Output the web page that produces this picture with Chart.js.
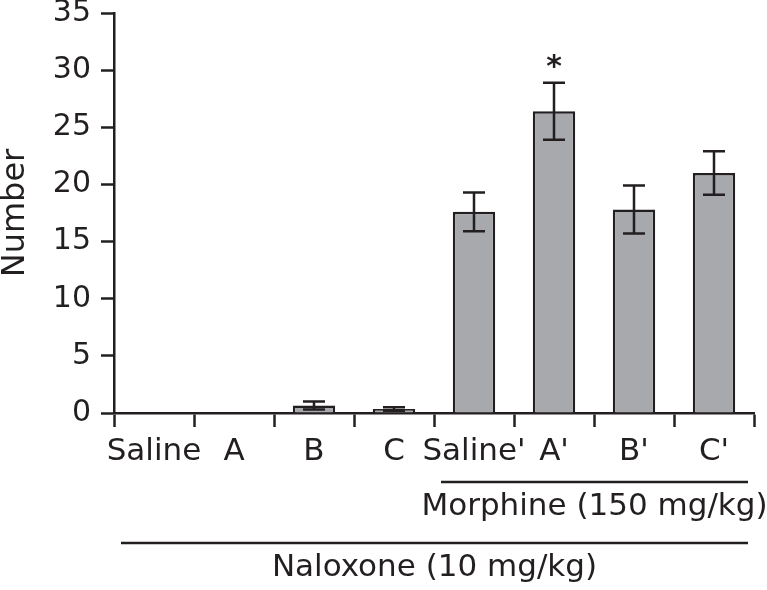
<!DOCTYPE html>
<html>
<head>
<meta charset="utf-8">
<script src="https://cdn.jsdelivr.net/npm/chart.js@4.4.1/dist/chart.umd.min.js"></script>
<style>
html, body { margin: 0; padding: 0; background: #fff; }
#wrap { width: 767px; height: 590px; }
</style>
</head>
<body>
<div id="wrap"><canvas id="chart" width="767" height="590"></canvas></div>
<script>
// data
const categories = ['Saline', 'A', 'B', 'C', "Saline'", "A'", "B'", "C'"];
const means = [0, 0, 0.65, 0.35, 17.6, 26.4, 17.8, 21.0];
const errors = [0, 0, 0.35, 0.15, 1.7, 2.5, 2.1, 1.9];
const marks = ['', '', '', '', '', '*', '', ''];
const yTicks = [0, 5, 10, 15, 20, 25, 30, 35];

// treatment groups shown under the x axis (category index range)
const groupLabels = ['Morphine (150 mg/kg)', 'Naloxone (10 mg/kg)'];
const groupFirst = [4, 0];
const groupLast = [7, 7];

const INK = '#231f20';
const FONT = "'DejaVu Sans', sans-serif";

// error bars + significance marks
const errorBars = {
    id: 'errorBars',
    afterDatasetsDraw(chart) {
        const ctx = chart.ctx;
        const xs = chart.scales.x, ys = chart.scales.y;
        ctx.save();
        ctx.strokeStyle = INK;
        ctx.lineWidth = 2.5;
        means.forEach((m, i) => {
            const x = xs.getPixelForValue(i);
            if (errors[i] > 0) {
                const top = ys.getPixelForValue(m + errors[i]);
                const bot = ys.getPixelForValue(Math.max(0, m - errors[i]));
                ctx.beginPath();
                ctx.moveTo(x, top); ctx.lineTo(x, bot);
                ctx.moveTo(x - 11, top); ctx.lineTo(x + 11, top);
                ctx.moveTo(x - 11, bot); ctx.lineTo(x + 11, bot);
                ctx.stroke();
            }
            if (marks[i]) {
                const top = ys.getPixelForValue(m + errors[i]);
                ctx.fillStyle = INK;
                ctx.font = 'bold 30px ' + FONT;
                ctx.textAlign = 'center';
                ctx.textBaseline = 'middle';
                ctx.fillText(marks[i], x, top - 15);
            }
        });
        ctx.restore();
    }
};

// group brackets under the axis
const groupLines = {
    id: 'groupLines',
    afterDraw(chart) {
        const ctx = chart.ctx;
        const xs = chart.scales.x;
        const half = (xs.getPixelForValue(1) - xs.getPixelForValue(0)) / 2;
        const lineY = [482, 543];
        ctx.save();
        ctx.strokeStyle = INK;
        ctx.fillStyle = INK;
        ctx.lineWidth = 2.5;
        ctx.font = '31px ' + FONT;
        ctx.textAlign = 'center';
        ctx.textBaseline = 'middle';
        groupLabels.forEach((lab, g) => {
            const x0 = xs.getPixelForValue(groupFirst[g]) - half + 7;
            const x1 = xs.getPixelForValue(groupLast[g]) + half - 6;
            ctx.beginPath();
            ctx.moveTo(x0, lineY[g]); ctx.lineTo(x1, lineY[g]);
            ctx.stroke();
            ctx.fillText(lab, (x0 + x1) / 2, lineY[g] + 25);
        });
        ctx.restore();
    }
};

new Chart(document.getElementById('chart'), {
    type: 'bar',
    data: {
        labels: categories,
        datasets: [{
            data: means,
            backgroundColor: '#a7a9ac',
            borderColor: INK,
            borderWidth: 2.5,
            categoryPercentage: 1,
            barPercentage: 0.53
        }]
    },
    options: {
        responsive: false,
        animation: false,
        layout: { padding: { top: 13, right: 13, left: 0, bottom: 0 } },
        plugins: { legend: { display: false }, tooltip: { enabled: false } },
        scales: {
            x: {
                grid: { offset: true, drawOnChartArea: false, tickLength: 14, tickWidth: 2.5, tickColor: INK },
                border: { color: INK, width: 2.5 },
                ticks: { color: INK, font: { family: FONT, size: 31 }, padding: 6, maxRotation: 0, autoSkip: false },
                afterFit(scale) { scale.height = 177; }
            },
            y: {
                min: 0, max: 35,
                afterBuildTicks(scale) { scale.ticks = yTicks.map(v => ({ value: v })); },
                grid: { drawOnChartArea: false, tickLength: 13, tickWidth: 2.5, tickColor: INK },
                border: { color: INK, width: 2.5 },
                // small lineHeight keeps the top label from pushing the plot down
                ticks: { color: INK, font: { family: FONT, size: 30, lineHeight: 0.2 }, padding: 10 },
                title: { display: true, text: 'Number', color: INK, font: { family: FONT, size: 32, lineHeight: 1 }, padding: 0 },
                afterFit(scale) { scale.width = 114; }
            }
        }
    },
    plugins: [errorBars, groupLines]
});
</script>
</body>
</html>
